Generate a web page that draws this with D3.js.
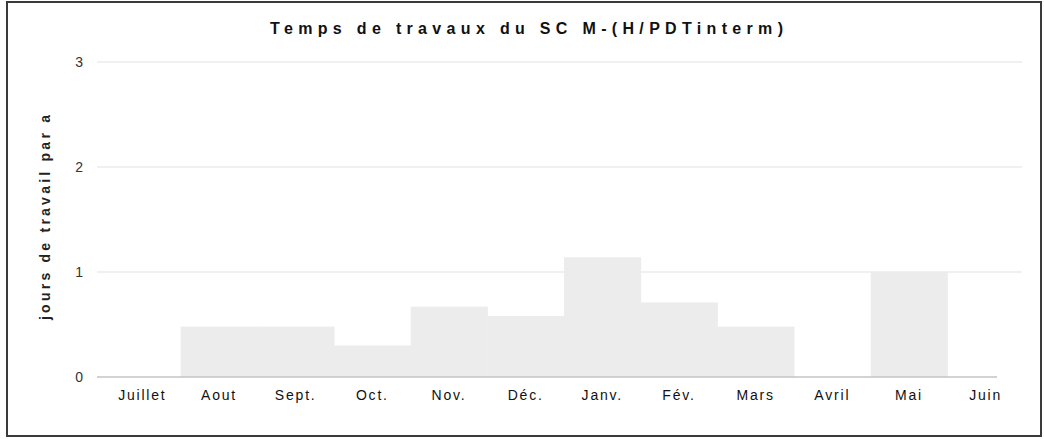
<!DOCTYPE html>
<html>
<head>
<meta charset="utf-8">
<script src="https://cdn.jsdelivr.net/npm/d3@7"></script>
<style>
  body { margin: 0; background: #fff; }
  svg { display: block; font-family: "Liberation Sans", Arial, sans-serif; }
</style>
</head>
<body>
<div id="chart"></div>
<script>
// months of the working year, July to June
const months = ["Juillet", "Aout", "Sept.", "Oct.", "Nov.", "Déc.", "Janv.", "Fév.", "Mars", "Avril", "Mai", "Juin"]
// jours de travail par an
const jours = [0, 0.48, 0.48, 0.3, 0.67, 0.58, 1.14, 0.71, 0.48, 0, 1.0, 0]
const yTicks = [0, 1, 2, 3]

const width = 1044, height = 439
const marginLeft = 104, marginRight = 20, marginTop = 62, marginBottom = 62

const svg = d3.select("#chart").append("svg")
    .attr("width", width)
    .attr("height", height)
    .attr("viewBox", [0, 0, width, height])

const x = d3.scaleBand(months, [marginLeft, width - marginRight]).padding(0)
const y = d3.scaleLinear([0, 3], [height - marginBottom, marginTop])

// frame
svg.append("rect")
    .attr("x", 7).attr("y", 2)
    .attr("width", 1034).attr("height", 434)
    .attr("fill", "none")
    .attr("stroke", "#3a3a3a")
    .attr("stroke-width", 2)

// gridlines
svg.append("g")
    .selectAll("line")
    .data(yTicks.filter(d => d > 0))
    .join("line")
    .attr("x1", 97)
    .attr("x2", 1022)
    .attr("y1", d => y(d))
    .attr("y2", d => y(d))
    .attr("stroke", "#e2e2e2")
    .attr("stroke-width", 1.2)

// bars
svg.append("g")
    .attr("fill", "#ececec")
    .selectAll("rect")
    .data(months)
    .join("rect")
    .attr("x", (d, i) => x(d))
    .attr("y", (d, i) => y(jours[i]))
    .attr("width", x.bandwidth() + 0.5)
    .attr("height", (d, i) => y(0) - y(jours[i]))

// zero line
svg.append("line")
    .attr("x1", 97)
    .attr("x2", 997)
    .attr("y1", y(0))
    .attr("y2", y(0))
    .attr("stroke", "#c4c4c4")
    .attr("stroke-width", 1.5)

// y axis labels
const yAxis = d3.axisLeft(y).tickValues(yTicks).tickFormat(d3.format("d")).tickSize(0).tickPadding(0)
svg.append("g")
    .attr("transform", "translate(83,0)")
    .call(yAxis)
    .call(g => g.select(".domain").remove())
    .call(g => g.selectAll("text")
        .attr("font-size", 14)
        .attr("font-family", "Liberation Sans, Arial, sans-serif")
        .attr("fill", "#333"))

// x axis labels
const xAxis = d3.axisBottom(x).tickSize(0).tickPadding(0)
svg.append("g")
    .attr("transform", `translate(0,${y(0) + 13})`)
    .call(xAxis)
    .call(g => g.select(".domain").remove())
    .call(g => g.selectAll("text")
        .attr("font-size", 14)
        .attr("font-family", "Liberation Sans, Arial, sans-serif")
        .attr("letter-spacing", "1.8px")
        .attr("fill", "#111"))

// title
svg.append("text")
    .attr("x", 270)
    .attr("y", 34)
    .attr("textLength", 513)
    .attr("lengthAdjust", "spacing")
    .attr("font-size", 16)
    .attr("font-weight", "bold")
    .attr("fill", "#111")
    .text("Temps de travaux du SC M-(H/PDTinterm)")

// y label
svg.append("text")
    .attr("transform", "translate(50,320) rotate(-90)")
    .attr("textLength", 205)
    .attr("lengthAdjust", "spacing")
    .attr("font-size", 14)
    .attr("font-weight", "bold")
    .attr("fill", "#222")
    .text("jours de travail par a")
</script>
</body>
</html>
